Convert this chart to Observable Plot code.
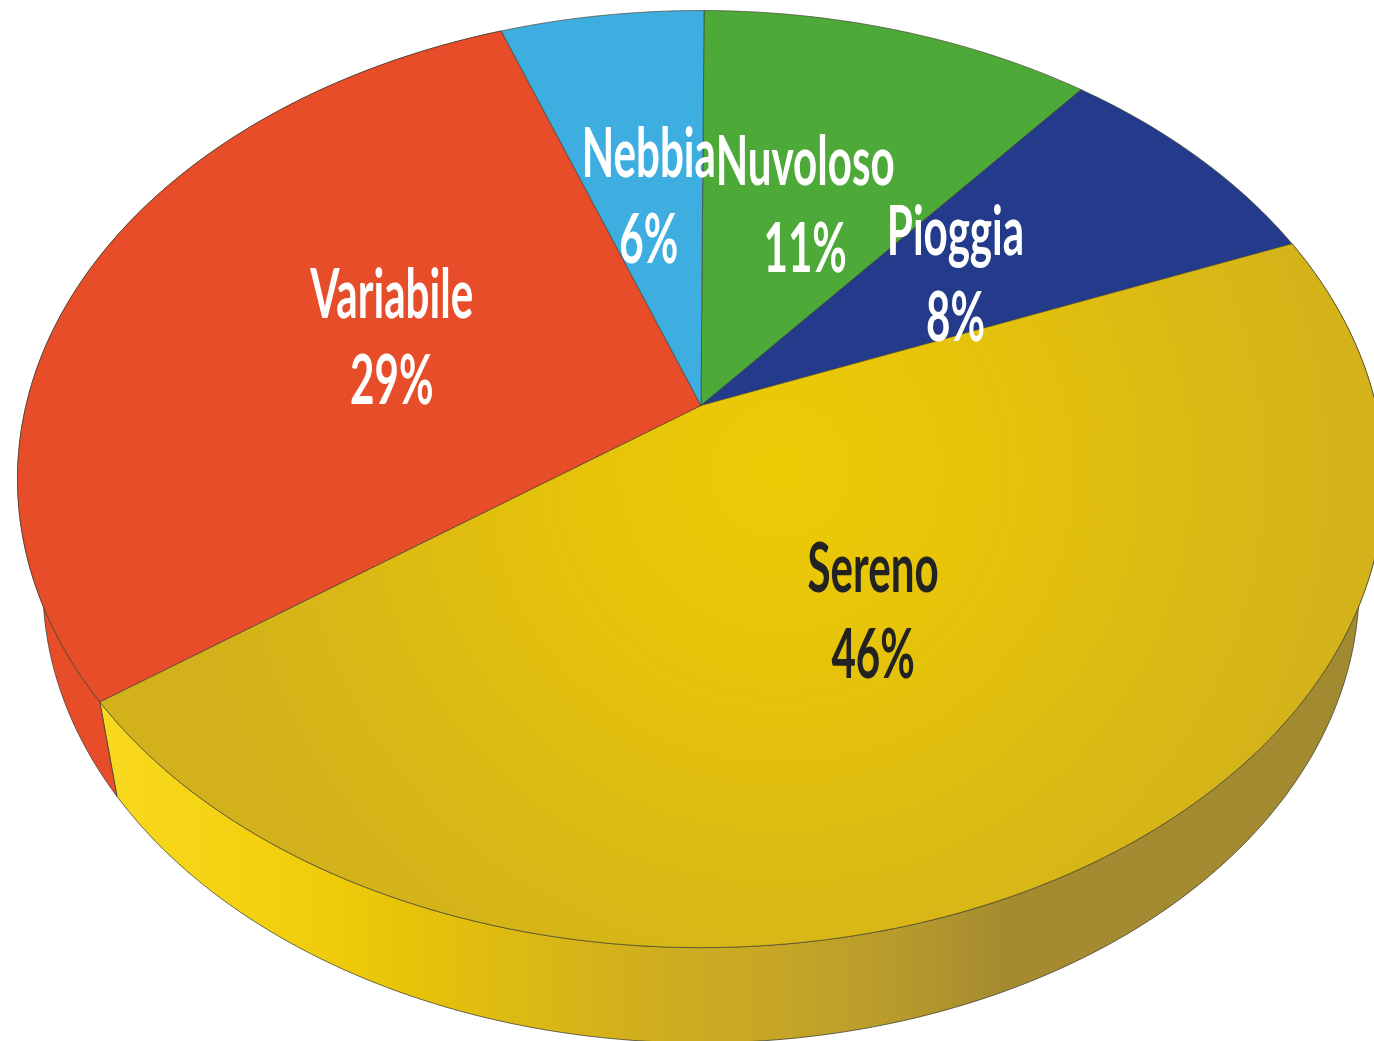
<!DOCTYPE html>
<html><head><meta charset="utf-8">
<style>html,body{margin:0;padding:0;background:#fff;overflow:hidden}svg{display:block}</style>
<script src="https://cdn.jsdelivr.net/npm/d3@7"></script>
<script src="https://cdn.jsdelivr.net/npm/@observablehq/plot@0.6"></script>
</head><body><div id="chart"></div>
<script>
// Data, clockwise from the top of the pie
const categories = ["Nuvoloso", "Pioggia", "Sereno", "Variabile", "Nebbia"];
const shares = [10.8, 8, 46.1, 29.5, 5.6];      // slice sizes
const percentLabels = ["11%", "8%", "46%", "29%", "6%"];
const colors = ["#4eaa38", "#233b8a", "url(#topYellow)", "#e84d2a", "#3eaee0"];
const textColors = ["#fff", "#fff", "#222", "#fff", "#fff"];

// Perspective view of the disc
const W = 1374, H = 1041;
const cx = 700.5, cy = 405, a = 675, b = 457, k = 0.157, startDeg = 0.3;
const depth = 100, lowerK = 0.175, lowerSx = 0.96, lowerSy = 0.97, labelR = 0.49;

function project(deg, r = 1, lower = false) {
  const t = deg * Math.PI / 180, u = r * Math.sin(t), v = r * Math.cos(t);
  const d = 1 + (lower ? lowerK : k) * v;
  return {
    x: cx + (lower ? lowerSx : 1) * a * u / d,
    y: cy - (lower ? lowerSy : 1) * b * v / d + (lower ? depth : 0)
  };
}
const toDeg = (pct) => startDeg + pct * 3.6;
const arc = (d0, d1, lower = false) => {
  const n = Math.ceil(Math.abs(d1 - d0)), out = [];
  for (let i = 0; i <= n; ++i) out.push(project(d0 + (d1 - d0) * i / n, 1, lower));
  return out;
};

const cum = d3.cumsum(shares);
const slices = categories.map((name, i) => ({name, from: toDeg(i ? cum[i - 1] : 0), to: toDeg(cum[i])}));

const wall = (i, part) => [...arc(slices[i].from, slices[i].to), ...arc(slices[i].to, slices[i].from, true),
  project(slices[i].from)].map((p) => ({...p, part}));
const wallPts = [...wall(2, "Sereno lato"), ...wall(3, "Variabile lato")];
const topPts = slices.flatMap((s) => [project(0, 0), ...arc(s.from, s.to), project(0, 0)].map((p) => ({...p, part: s.name})));
const labels = slices.map((s, i) => ({
  ...project((s.from + s.to) / 2, labelR),
  text: s.name + "\n" + percentLabels[i],
  ink: textColors[i]
}));

const chart = Plot.plot({
  width: W, height: H, margin: 0,
  x: {domain: [0, W], axis: null},
  y: {domain: [H, 0], axis: null},
  color: {
    domain: ["Sereno lato", "Variabile lato", ...categories],
    range: ["url(#wallYellow)", "#e84d2a", ...colors]
  },
  marks: [
    Plot.line(wallPts, {x: "x", y: "y", z: "part", fill: "part", stroke: "#3f3f30", strokeWidth: 0.9, strokeOpacity: 0.85, curve: "linear"}),
    Plot.line(topPts, {x: "x", y: "y", z: "part", fill: "part", stroke: "#3f3f30", strokeWidth: 0.8, strokeOpacity: 0.8, curve: "linear"}),
    Plot.text(labels, {x: "x", y: "y", dy: -8, text: "text", fill: (d) => d.ink, fontFamily: "Lato", fontSize: 68, fontWeight: 700, lineHeight: 1.27, lineAnchor: "middle", className: "pie-label"})
  ]
});
document.getElementById("chart").appendChild(chart);

// Shading and the condensed lettering of the original
const svg = d3.select(chart);
const defs = svg.insert("defs", ":first-child");
const topG = defs.append("radialGradient").attr("id", "topYellow").attr("gradientUnits", "userSpaceOnUse")
  .attr("cx", 780).attr("cy", 470).attr("r", 620);
[[0, "#eccb06"], [0.35, "#e6c30a"], [0.75, "#d8b716"], [1, "#d2b11c"]].forEach(([o, c]) =>
  topG.append("stop").attr("offset", o).attr("stop-color", c));
const wallG = defs.append("linearGradient").attr("id", "wallYellow").attr("gradientUnits", "userSpaceOnUse")
  .attr("x1", 100).attr("x2", 1374).attr("y1", 0).attr("y2", 0);
[[0, "#f9d91f"], [0.15, "#f2cf0c"], [0.235, "#e8c408"], [0.43, "#d0ae1e"], [0.55, "#c4a428"], [0.63, "#b69a2c"], [0.71, "#a58a30"], [1, "#a28a30"]].forEach(([o, c]) =>
  wallG.append("stop").attr("offset", o).attr("stop-color", c));
svg.selectAll(".pie-label text").attr("transform", function () {
  return (this.getAttribute("transform") || "") + " scale(0.62,1)";
});
</script></body></html>
